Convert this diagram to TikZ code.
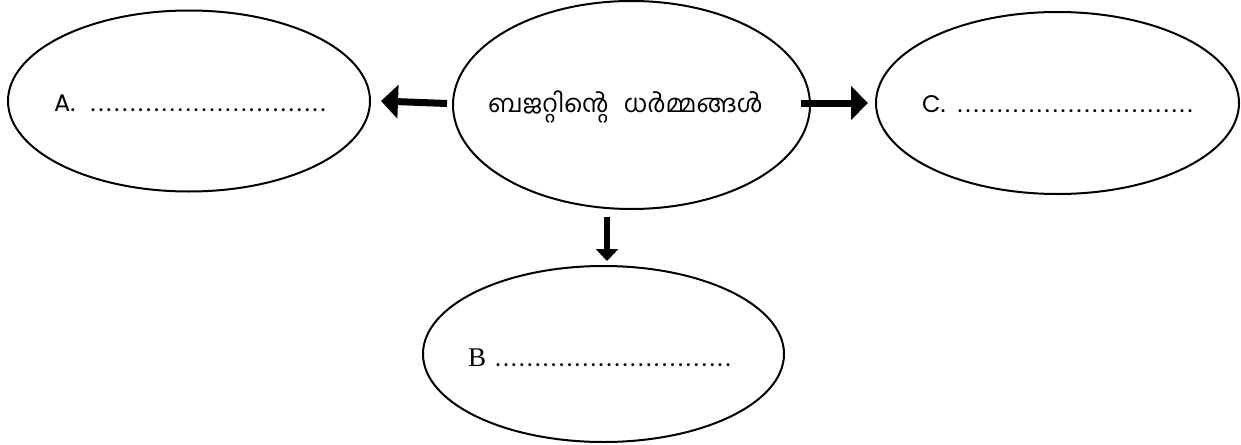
\documentclass[tikz,border=0pt]{standalone}
\usepackage{fontspec}
\usetikzlibrary{shapes.geometric,arrows.meta,calc}
\newfontfamily\malfont[Script=Malayalam]{Hind Kochi}
\newfontfamily\gothfont{Poppins}
\newfontfamily\serfont{Liberation Serif}
\newcommand{\dd}{\hbox to 7.93pt{\hss.\hss}}
\newcommand{\dotrow}{\dd\dd\dd\dd\dd\dd\dd\dd\dd\dd\dd\dd\dd\dd\dd\dd\dd\dd\dd\dd\dd\dd\dd\dd\dd\dd\dd\dd\dd\dd}
\begin{document}
\begin{tikzpicture}[x=1pt,y=-1pt,
  bubble/.style={draw,ellipse,line width=2pt,inner sep=0pt},
  lbl/.style={anchor=base west,inner sep=0pt},
  gfont/.style={font=\gothfont\fontsize{24}{28}\selectfont},
  fatarrow/.style={line width=7pt,-{Triangle[length=17pt,width=33pt]}},
  thinarrow/.style={line width=6pt,-{Triangle[length=12pt,width=22pt]}}]
\useasboundingbox (0,0) rectangle (1241,444);
\node[bubble,minimum width=362pt,minimum height=181pt] (A) at (189,101) {};
\node[bubble,minimum width=357pt,minimum height=208pt] (M) at (631.5,105) {};
\node[bubble,minimum width=363pt,minimum height=182pt] (C) at (1057.5,103) {};
\node[bubble,minimum width=361pt,minimum height=176pt] (B) at (603.5,354) {};
\node[lbl,gfont] (ta) at (54,111) {A.};
\node[lbl,gfont] (da) at (89,111) {\dotrow};
\node[lbl,gfont] (tc) at (922,112) {C.};
\node[lbl,gfont] (dc) at (956,112) {\dotrow};
\node[lbl,font=\serfont\fontsize{27}{31}\selectfont] (tb) at (468,366) {B};
\node[lbl,gfont] (db) at (494,366) {\dotrow};
\node[lbl,font=\malfont\fontsize{24.5}{29}\selectfont] (tm) at (488,112) {ബജറ്റിന്റെ\hspace{9pt} ധർമ്മങ്ങൾ};
\coordinate (la) at ($(M.west)+(-5,-1.5)$);
\coordinate (ra) at ($(M.east)+(-10,-2)$);
\coordinate (rc) at ($(C.west)+(-7,0)$);
\coordinate (dn) at ($(M.south)+(-24.5,7)$);
\draw[fatarrow] (la) -- (A.east -| 381,0 |- la);
\draw[fatarrow] (ra) -- (rc);
\draw[thinarrow] (dn) -- (dn |- 261,261);
\end{tikzpicture}
\end{document}
